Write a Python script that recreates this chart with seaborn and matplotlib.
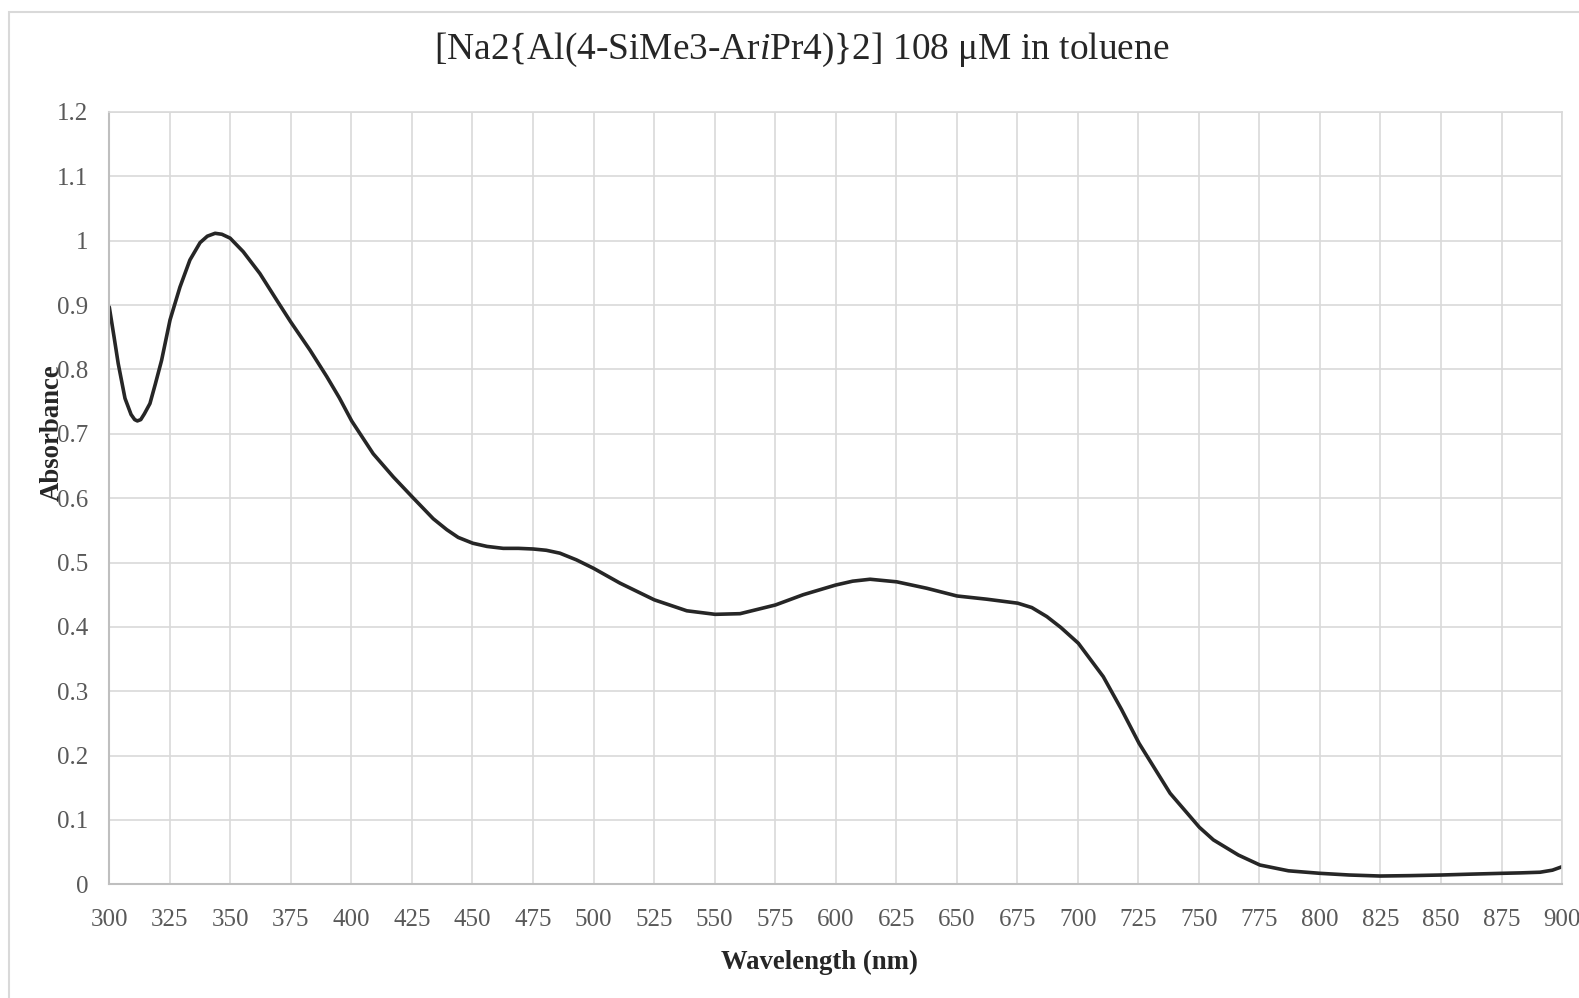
import matplotlib
matplotlib.use("Agg")
import matplotlib.pyplot as plt
import seaborn as sns
import pandas as pd
from matplotlib.patches import Rectangle

wavelength = [300, 302, 303.7, 306.5, 309, 310.5, 311.6, 313, 314.5, 316.8, 319, 321.6, 325.1,
              329.2, 333.3, 337.5, 340.5, 343.7, 346.5, 349.9, 355.3, 362.2, 369.1, 374.9,
              382.9, 389.8, 395, 400.1, 409, 417.3, 425.1, 433.8, 439.4, 444.1, 450.1, 456,
              462.7, 469, 475.1, 480.5, 486.1, 493, 500, 510.9, 525.1, 538.5, 550.2, 560.5,
              575.1, 586.6, 600, 607, 614.2, 625.2, 637.6, 650.1, 662.4, 675.2, 681, 687.2,
              693, 700.2, 710.5, 718, 725.3, 738.1, 750.2, 756, 766.3, 775.2, 787, 800, 812,
              824.8, 837, 850.3, 862, 875.1, 883, 890.9, 896, 900]
absorbance = [0.897, 0.850, 0.809, 0.755, 0.730, 0.722, 0.720, 0.722, 0.731, 0.747, 0.777, 0.814,
              0.877, 0.928, 0.970, 0.997, 1.007, 1.0115, 1.010, 1.004, 0.983, 0.949, 0.908,
              0.874, 0.830, 0.789, 0.756, 0.720, 0.669, 0.633, 0.602, 0.568, 0.551, 0.539,
              0.530, 0.525, 0.522, 0.522, 0.521, 0.519, 0.5145, 0.504, 0.491, 0.468, 0.442,
              0.425, 0.4195, 0.4205, 0.434, 0.450, 0.465, 0.471, 0.474, 0.470, 0.460, 0.448,
              0.443, 0.4368, 0.430, 0.416, 0.399, 0.3746, 0.3227, 0.272, 0.219, 0.1415, 0.0886,
              0.069, 0.0455, 0.030, 0.021, 0.0171, 0.0145, 0.0129, 0.0135, 0.0145, 0.0158,
              0.0171, 0.0178, 0.0188, 0.022, 0.0274]

x_ticks = list(range(300, 901, 25))
y_ticks = [0, 0.1, 0.2, 0.3, 0.4, 0.5, 0.6, 0.7, 0.8, 0.9, 1, 1.1, 1.2]
y_tick_labels = ["0", "0.1", "0.2", "0.3", "0.4", "0.5", "0.6", "0.7", "0.8", "0.9", "1", "1.1", "1.2"]

df = pd.DataFrame({"Wavelength": wavelength, "Absorbance": absorbance})

sns.set_style("white")
plt.rcParams["font.family"] = ["Liberation Serif", "DejaVu Serif"]
plt.rcParams["mathtext.fontset"] = "custom"
plt.rcParams["mathtext.rm"] = "Liberation Serif"
plt.rcParams["mathtext.it"] = "Liberation Serif:italic"

fig = plt.figure(figsize=(15.79, 9.98), dpi=100)
ax = fig.add_axes([0.0692, 0.1139, 0.9201, 0.7739])

sns.lineplot(data=df, x="Wavelength", y="Absorbance", ax=ax, color="#262626",
             linewidth=2.6, sort=False)

ax.set_xlim(300, 900)
ax.set_ylim(0, 1.2)
ax.set_xticks(x_ticks)
ax.set_yticks(y_ticks)
ax.set_yticklabels(y_tick_labels)
ax.grid(True, color="#d9d9d9", linewidth=1.2)
ax.set_axisbelow(True)
ax.tick_params(length=0, labelsize=18, labelcolor="#595959")
ax.tick_params(axis="x", pad=18)
ax.tick_params(axis="y", pad=15)
for side in ["top", "right"]:
    ax.spines[side].set_color("#d9d9d9")
    ax.spines[side].set_linewidth(1.2)
for side in ["left", "bottom"]:
    ax.spines[side].set_color("#bfbfbf")
    ax.spines[side].set_linewidth(1.5)

ax.set_xlabel("Wavelength (nm)", fontsize=19.3, fontweight="bold")
ax.xaxis.set_label_coords(0.489, -0.085)
ax.set_ylabel("")
fig.text(52 / 1579, 1 - 433 / 998, "Absorbance", rotation=90, fontsize=19.3,
         fontweight="bold", ha="center", va="center")

fig.text(802 / 1579, 1 - 50 / 998, r"[Na2{Al(4-SiMe3-Ar$\mathit{i}$Pr4)}2] 108 μM in toluene",
         fontsize=26.9, ha="center", va="center", color="#262626")

fig.patches.append(Rectangle((9 / 1579, -0.01), 1.0, 1 - 12 / 998 + 0.01,
                             transform=fig.transFigure, fill=False,
                             edgecolor="#d9d9d9", linewidth=1.5))

fig.savefig("out.png", dpi=100)
